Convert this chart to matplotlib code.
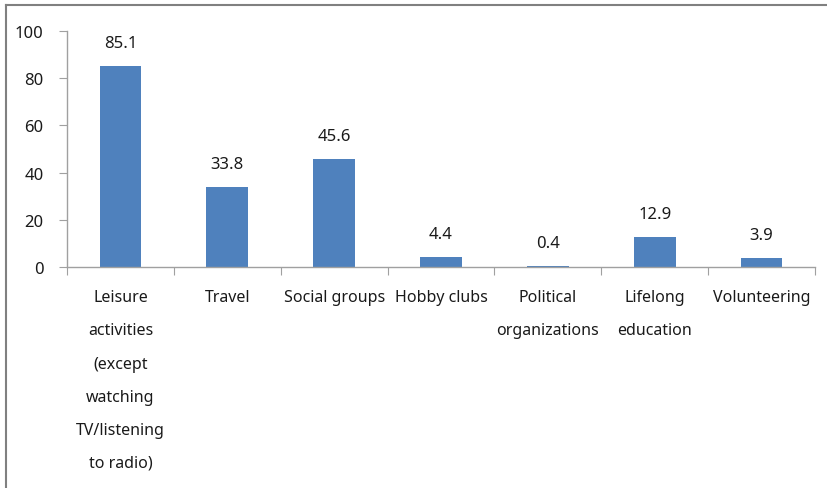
import matplotlib.pyplot as plt
from matplotlib.lines import Line2D

# Participation in activities (%)
categorias = [
    "Leisure\nactivities\n(except\nwatching\nTV/listening\nto radio)",
    "Travel",
    "Social groups",
    "Hobby clubs",
    "Political\norganizations",
    "Lifelong\neducation",
    "Volunteering",
]
valores = [85.1, 33.8, 45.6, 4.4, 0.4, 12.9, 3.9]

plt.rcParams['font.family'] = ['Noto Sans', 'DejaVu Sans']

fig = plt.figure(figsize=(8.27, 4.89), dpi=100)
ax = fig.add_axes([0.081, 0.452, 0.9045, 0.4826])

x = range(len(valores))
ax.bar(x, valores, width=0.39, color='#4F81BD', edgecolor='none', zorder=2)

for xi, v in zip(x, valores):
    ax.annotate(f"{v:.1f}", (xi, v), xytext=(0, 15), textcoords='offset pixels',
                ha='center', va='bottom', fontsize=12, color='#1a1a1a')

ax.set_xlim(-0.5, len(valores) - 0.5)
ax.set_ylim(0, 100)
ax.set_yticks(range(0, 101, 20))

# x ticks sit between the categories, labels at the centres
ax.set_xticks([i - 0.5 for i in range(len(valores) + 1)])
ax.set_xticklabels([])
ax.set_xticks(list(x), minor=True)
ax.set_xticklabels(categorias, minor=True, fontsize=11.5, linespacing=2.43,
                   va='top', ha='center', color='#1a1a1a')
ax.tick_params(axis='x', which='minor', length=0, pad=16)
ax.tick_params(axis='x', which='major', length=6, color='#a0a0a0')
ax.tick_params(axis='y', length=6, color='#a0a0a0', labelsize=12,
               labelcolor='#1a1a1a', pad=11)

for lado in ['top', 'right']:
    ax.spines[lado].set_visible(False)
for lado in ['left', 'bottom']:
    ax.spines[lado].set_color('#a0a0a0')
    ax.spines[lado].set_linewidth(1.0)

# marco gris de la figura (izquierda y arriba)
W, H = 827, 489
fig.add_artist(Line2D([6 / W, 6 / W], [0, 1 - 6 / H], color='#808080', lw=1.5,
                      transform=fig.transFigure))
fig.add_artist(Line2D([6 / W, 1], [1 - 6 / H, 1 - 6 / H], color='#808080', lw=1.5,
                      transform=fig.transFigure))

fig.savefig('out.png', dpi=100)
